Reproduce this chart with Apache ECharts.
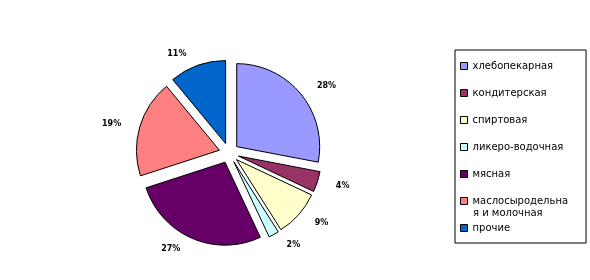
<!DOCTYPE html>
<html>
<head>
<meta charset="utf-8">
<script src="https://cdn.jsdelivr.net/npm/echarts@6/dist/echarts.min.js"></script>
<style>html,body{margin:0;padding:0;background:#fff}#c{width:590px;height:280px}</style>
</head>
<body>
<div id="c"></div>
<script>
var categories = ['хлебопекарная', 'кондитерская', 'спиртовая', 'ликеро-водочная', 'мясная', 'маслосыродельная и молочная', 'прочие'];
var values = [28, 4, 9, 2, 27, 19, 11];
var colors = ['#9999FF', '#993366', '#FFFFCC', '#CCFFFF', '#660066', '#FF8080', '#0066CC'];
// legend wraps the long name over two lines
var wrapName = 'маслосыродельная и молочная';
var wrapLines = ['маслосыродельна', 'я и молочная'];

var chart = echarts.init(document.getElementById('c'), null, {renderer: 'canvas'});
var data = categories.map(function (n, i) {
  return {name: n, value: values[i], selected: true, itemStyle: {color: colors[i]}};
});
chart.setOption({
  animation: false,
  backgroundColor: '#fff',
  legend: {
    orient: 'vertical',
    left: 455,
    top: 50,
    padding: [11, 18, 10, 5],
    itemGap: 17,
    itemWidth: 7,
    itemHeight: 7,
    borderColor: '#000',
    borderWidth: 1,
    borderRadius: 0,
    icon: 'rect',
    selectedMode: false,
    itemStyle: {borderColor: '#000', borderWidth: 1},
    formatter: function (n) {
      return n === wrapName ? wrapLines[0] : n;
    },
    textStyle: {fontFamily: 'DejaVu Sans', fontSize: 10, color: '#000', lineHeight: 10}
  },
  graphic: [{
    type: 'text',
    left: 473,
    top: 208,
    style: {text: wrapLines[1], font: '10px "DejaVu Sans"', fill: '#000'}
  }],
  series: [{
    type: 'pie',
    center: [229, 153],
    radius: 83,
    startAngle: 90,
    clockwise: true,
    selectedMode: 'multiple',
    selectedOffset: 10,
    avoidLabelOverlap: false,
    itemStyle: {borderColor: '#000', borderWidth: 1},
    label: {
      show: true,
      position: 'outside',
      formatter: '{c}%',
      fontFamily: 'DejaVu Sans',
      fontWeight: 'bold',
      fontSize: 8,
      color: '#000'
    },
    labelLine: {show: false, length: 12, length2: 2},
    emphasis: {disabled: true},
    data: data
  }]
});
</script>
</body>
</html>
